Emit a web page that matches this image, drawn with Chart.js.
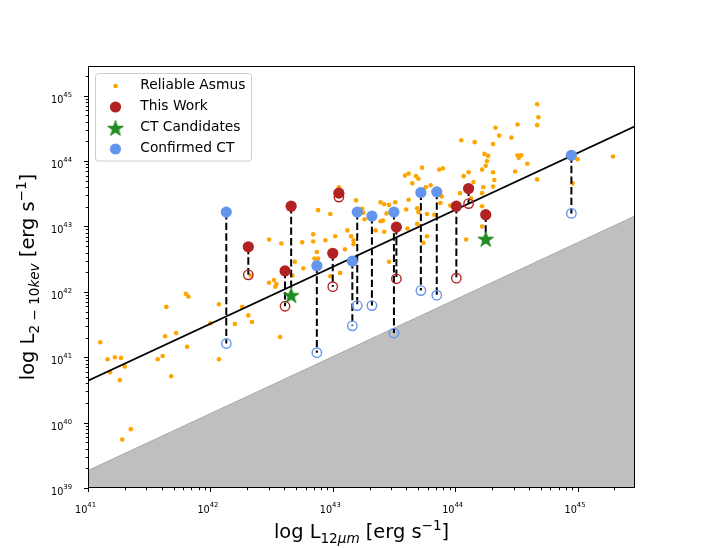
<!DOCTYPE html>
<html>
<head>
<meta charset="utf-8">
<script src="https://cdn.jsdelivr.net/npm/chart.js@4.4.1/dist/chart.umd.min.js"></script>
<style>
  html, body { margin: 0; padding: 0; background: #fff; }
  #wrap { width: 706px; height: 548px; }
</style>
</head>
<body>
<div id="wrap"><canvas id="grafico" width="706" height="548"></canvas></div>
<script>
// ==========================================
// DATA (log10 values)
// ==========================================
// Reliable Asmus sample
const asmusLogX = [41.10, 41.16, 41.22, 41.27, 41.30, 41.18, 41.26, 41.35, 41.28, 41.57,
  41.61, 41.68, 41.63, 41.72, 41.81, 41.64, 41.80, 41.82, 42.00, 42.07,
  42.07, 42.26, 42.31, 42.34, 42.20, 42.57, 42.33, 42.48, 42.52, 42.54,
  42.53, 42.67, 42.98, 43.06, 42.76, 42.69, 42.85, 42.88, 42.87, 43.10,
  42.48, 42.58, 42.75, 42.84, 42.84, 42.94, 43.02, 43.12, 43.15, 43.17,
  43.17, 42.88, 42.98, 43.05, 43.19, 43.24, 43.25, 43.26, 43.39, 43.42,
  43.46, 43.51, 43.62, 43.65, 43.76, 43.80, 43.88, 43.69, 43.70, 43.60,
  43.44, 43.41, 43.39, 43.35, 43.42, 43.69, 43.61, 43.77, 43.83, 43.46,
  43.74, 43.77, 43.59, 43.62, 43.73, 43.68, 43.70, 43.87, 43.90, 43.89,
  43.96, 44.09, 44.22, 44.22, 44.22, 44.23, 44.31, 44.32, 44.31, 44.22,
  44.25, 44.26, 44.24, 44.27, 44.31, 44.16, 44.05, 44.33, 44.36, 44.46,
  44.51, 44.67, 44.68, 44.67, 44.51, 44.54, 44.52, 44.59, 44.49, 44.67,
  45.00, 45.29, 44.96, 44.11, 44.07, 44.15, 44.13, 44.04];
const asmusLogY = [41.23, 40.97, 41.00, 40.99, 40.86, 40.77, 40.65, 39.90, 39.74, 40.97,
  41.02, 40.71, 41.32, 41.37, 41.16, 41.77, 41.97, 41.93, 41.52, 41.81,
  40.97, 41.77, 41.64, 41.54, 41.51, 41.31, 42.25, 42.14, 42.18, 42.12,
  42.08, 42.25, 42.24, 42.29, 42.36, 42.46, 42.51, 42.51, 42.61, 42.65,
  42.80, 42.74, 42.76, 42.77, 42.88, 42.79, 42.85, 42.94, 42.85, 42.79,
  42.73, 43.25, 43.19, 43.60, 43.40, 43.27, 43.21, 43.11, 43.37, 43.34,
  43.33, 43.37, 43.41, 43.66, 43.60, 43.63, 43.36, 43.28, 43.22, 43.26,
  43.20, 43.09, 43.08, 42.94, 42.92, 43.04, 42.97, 43.19, 43.18, 42.46,
  42.75, 42.85, 43.78, 43.81, 43.90, 43.77, 43.73, 43.87, 43.89, 43.46,
  43.32, 42.80, 43.00, 43.31, 43.51, 43.60, 43.61, 43.71, 43.83, 43.87,
  43.93, 44.00, 44.11, 44.08, 44.26, 44.29, 44.32, 44.51, 44.39, 44.36,
  44.56, 44.55, 44.67, 44.87, 44.09, 44.09, 44.05, 43.96, 43.84, 43.72,
  44.03, 44.07, 43.66, 43.83, 43.77, 43.68, 43.43, 43.51];

// This Work: observed (top) and corrected (open circle)
const workLogX    = [42.31, 42.61, 43.00, 43.05, 43.52, 44.01, 44.11];
const workTopLogY = [42.69, 42.32, 42.59, 43.51, 42.99, 43.31, 43.58];
const workLowLogY = [42.26, 41.78, 42.08, 43.45, 42.20, 42.21, 43.35];

// CT candidates: observed (red) and corrected (star)
const candLogX    = [42.66, 44.25];
const candTopLogY = [43.31, 43.18];
const candLowLogY = [41.95, 42.81];

// Confirmed CT: observed (top) and corrected (open circle)
const ctLogX    = [42.13, 42.87, 43.16, 43.20, 43.32, 43.50, 43.72, 43.85, 44.95];
const ctTopLogY = [43.22, 42.40, 42.47, 43.22, 43.16, 43.22, 43.52, 43.53, 44.09];
const ctLowLogY = [41.21, 41.07, 41.48, 41.79, 41.79, 41.37, 42.02, 41.95, 43.20];

// relation line and shaded zone edge
const relX  = [1e41, 2.95e45];
const relY  = [4.37e40, 3.4e44];
const zoneY = [1.85e39, 1.45e43];

// axis limits and major ticks (exponents)
const xLim = [1e41, 2.95e45];
const yLim = [1e39, 2.85e45];
const xTickExp = [41, 42, 43, 44, 45];
const yTickExp = [39, 40, 41, 42, 43, 44, 45];

const legendLabels = ['Reliable Asmus', 'This Work', 'CT Candidates', 'Confirmed CT'];

// ==========================================
// HELPERS
// ==========================================
const fuente = '"DejaVu Sans", sans-serif';
const pts = (lx, ly) => lx.map((v, i) => ({ x: 10 ** v, y: 10 ** ly[i] }));

// 5-point star marker as an image for pointStyle
function makeStar(color) {
  const c = document.createElement('canvas');
  c.width = 20; c.height = 20;
  const g = c.getContext('2d');
  const R = 8.2, r = R * 0.382;
  g.beginPath();
  for (let k = 0; k < 10; k++) {
    const ang = -Math.PI / 2 + k * Math.PI / 5;
    const rad = k % 2 === 0 ? R : r;
    const px = 10 + rad * Math.cos(ang), py = 10.8 + rad * Math.sin(ang);
    k === 0 ? g.moveTo(px, py) : g.lineTo(px, py);
  }
  g.closePath();
  g.fillStyle = color; g.fill();
  g.strokeStyle = color; g.lineWidth = 1; g.stroke();
  return c;
}
const starImg = makeStar('#228B22');

function connectors(lx, top, low) {
  return lx.map((v, i) => ({
    type: 'line',
    label: 'link',
    data: [{ x: 10 ** v, y: 10 ** top[i] }, { x: 10 ** v, y: 10 ** low[i] }],
    borderColor: '#000',
    borderWidth: 2,
    borderDash: [7.4, 3.2],
    pointRadius: 0,
    fill: false,
    order: 6
  }));
}

// ==========================================
// DATASETS
// ==========================================
const datasets = [
  {
    type: 'line', label: 'zone',
    data: [{ x: relX[0], y: zoneY[0] }, { x: relX[1], y: zoneY[1] }],
    borderColor: '#a9a9a9', borderWidth: 1, backgroundColor: '#bfbfbf',
    fill: 'start', pointRadius: 0, order: 9
  },
  {
    label: 'Reliable Asmus', data: pts(asmusLogX, asmusLogY),
    pointRadius: 2.3, pointBackgroundColor: '#FFA500', pointBorderWidth: 0,
    backgroundColor: '#FFA500', order: 8
  },
  {
    type: 'line', label: 'relation',
    data: [{ x: relX[0], y: relY[0] }, { x: relX[1], y: relY[1] }],
    borderColor: '#000', borderWidth: 1.8, pointRadius: 0, fill: false, order: 7
  },
  ...connectors(workLogX, workTopLogY, workLowLogY),
  ...connectors(candLogX, candTopLogY, candLowLogY),
  ...connectors(ctLogX, ctTopLogY, ctLowLogY),
  {
    label: 'work corrected', data: pts(workLogX, workLowLogY),
    pointRadius: 4.7, pointBackgroundColor: 'rgba(0,0,0,0)',
    pointBorderColor: '#B22222', pointBorderWidth: 1.4, order: 5
  },
  {
    label: 'ct corrected', data: pts(ctLogX, ctLowLogY),
    pointRadius: 4.7, pointBackgroundColor: 'rgba(0,0,0,0)',
    pointBorderColor: '#6495ED', pointBorderWidth: 1.4, order: 5
  },
  {
    label: 'This Work', data: pts(workLogX.concat(candLogX), workTopLogY.concat(candTopLogY)),
    pointRadius: 5.6, pointBackgroundColor: '#B22222', pointBorderWidth: 0,
    backgroundColor: '#B22222', order: 4
  },
  {
    label: 'Confirmed CT', data: pts(ctLogX, ctTopLogY),
    pointRadius: 5.6, pointBackgroundColor: '#6495ED', pointBorderWidth: 0,
    backgroundColor: '#6495ED', order: 3
  },
  {
    label: 'CT Candidates', data: pts(candLogX, candLowLogY),
    pointStyle: starImg, pointRadius: 8, backgroundColor: '#228B22', order: 2
  }
];

// ==========================================
// TEXT WITH SUB/SUPERSCRIPTS
// ==========================================
// parts: [text, size, baseline shift, italic]
function drawParts(ctx, parts, x, y, align) {
  let w = 0;
  parts.forEach(p => { ctx.font = (p[3] ? 'italic ' : '') + p[1] + 'px ' + fuente; w += ctx.measureText(p[0]).width; });
  let cx = align === 'center' ? x - w / 2 : (align === 'right' ? x - w : x);
  parts.forEach(p => {
    ctx.font = (p[3] ? 'italic ' : '') + p[1] + 'px ' + fuente;
    ctx.fillText(p[0], cx, y + p[2]);
    cx += ctx.measureText(p[0]).width;
  });
}

const axesPlugin = {
  id: 'axesPlugin',
  afterDatasetsDraw(chart) {
    const { ctx, chartArea: a, scales: { x, y } } = chart;
    ctx.save();
    ctx.strokeStyle = '#000';
    ctx.fillStyle = '#000';
    ctx.lineWidth = 1;
    ctx.textAlign = 'left';
    ctx.textBaseline = 'alphabetic';

    // ticks
    ctx.beginPath();
    for (let e = 41; e <= 45; e++) {
      for (let k = 1; k <= 9; k++) {
        const v = k * 10 ** e;
        if (v < xLim[0] || v > xLim[1]) continue;
        const px = Math.round(x.getPixelForValue(v)) + 0.5;
        ctx.moveTo(px, a.bottom);
        ctx.lineTo(px, a.bottom + (k === 1 ? 4 : 2.2));
      }
    }
    for (let e = 39; e <= 45; e++) {
      for (let k = 1; k <= 9; k++) {
        const v = k * 10 ** e;
        if (v < yLim[0] || v > yLim[1]) continue;
        const py = Math.round(y.getPixelForValue(v)) + 0.5;
        ctx.moveTo(a.left, py);
        ctx.lineTo(a.left - (k === 1 ? 4 : 2.2), py);
      }
    }
    ctx.stroke();

    // frame
    ctx.strokeRect(a.left + 0.5, a.top + 0.5, a.right - a.left - 1, a.bottom - a.top - 1);

    // tick labels
    xTickExp.forEach(e => {
      const px = x.getPixelForValue(10 ** e);
      drawParts(ctx, [['10', 9.7, 0], [String(e), 6.8, -6]], px - 2.5, 513, 'center');
    });
    yTickExp.forEach(e => {
      const py = y.getPixelForValue(10 ** e);
      drawParts(ctx, [['10', 9.7, 0], [String(e), 6.8, -6]], 72, py + 7, 'right');
    });

    // axis titles
    const cxArea = (a.left + a.right) / 2;
    drawParts(ctx, [
      ['log L', 19.4, 0], ['12', 13.6, 4.5], ['\u03bcm', 13.6, 4.5, true],
      [' [erg s', 19.4, 0], ['\u22121', 13.6, -8], [']', 19.4, 0]
    ], cxArea, 538, 'center');

    ctx.translate(34, (a.top + a.bottom) / 2);
    ctx.rotate(-Math.PI / 2);
    drawParts(ctx, [
      ['log L', 19.4, 0], ['2 \u2212 10', 13.6, 4.5], ['kev', 13.6, 4.5, true],
      [' [erg s', 19.4, 0], ['\u22121', 13.6, -8], [']', 19.4, 0]
    ], 0, 0, 'center');
    ctx.restore();
  },
  afterDraw(chart) {
    // legend box in the upper left corner
    const { ctx } = chart;
    ctx.save();
    const bx = 95.5, by = 73.5, bw = 156, bh = 87.5, r = 3;
    ctx.beginPath();
    ctx.moveTo(bx + r, by);
    ctx.arcTo(bx + bw, by, bx + bw, by + bh, r);
    ctx.arcTo(bx + bw, by + bh, bx, by + bh, r);
    ctx.arcTo(bx, by + bh, bx, by, r);
    ctx.arcTo(bx, by, bx + bw, by, r);
    ctx.closePath();
    ctx.fillStyle = 'rgba(255,255,255,0.8)';
    ctx.fill();
    ctx.strokeStyle = '#cccccc';
    ctx.lineWidth = 1;
    ctx.stroke();

    legendLabels.forEach((lab, i) => {
      const ds = chart.data.datasets.find(d => d.label === lab);
      const base = 89.3 + i * 21;
      ctx.fillStyle = ds.backgroundColor;
      Chart.helpers.drawPoint(ctx, {
        pointStyle: ds.pointStyle || 'circle',
        radius: ds.pointRadius,
        rotation: 0,
        borderWidth: 0
      }, 115.5, base - 3.3);
      ctx.fillStyle = '#000';
      ctx.font = '13.8px ' + fuente;
      ctx.textAlign = 'left';
      ctx.textBaseline = 'alphabetic';
      ctx.fillText(lab, 140.3, base);
    });
    ctx.restore();
  }
};

// ==========================================
// CHART
// ==========================================
new Chart(document.getElementById('grafico').getContext('2d'), {
  type: 'scatter',
  data: { datasets },
  options: {
    responsive: false,
    animation: false,
    layout: { padding: { left: 88, right: 71, top: 66, bottom: 60 } },
    plugins: { legend: { display: false }, tooltip: { enabled: false } },
    scales: {
      x: { type: 'logarithmic', min: xLim[0], max: xLim[1], display: false },
      y: { type: 'logarithmic', min: yLim[0], max: yLim[1], display: false }
    }
  },
  plugins: [axesPlugin]
});
</script>
</body>
</html>
